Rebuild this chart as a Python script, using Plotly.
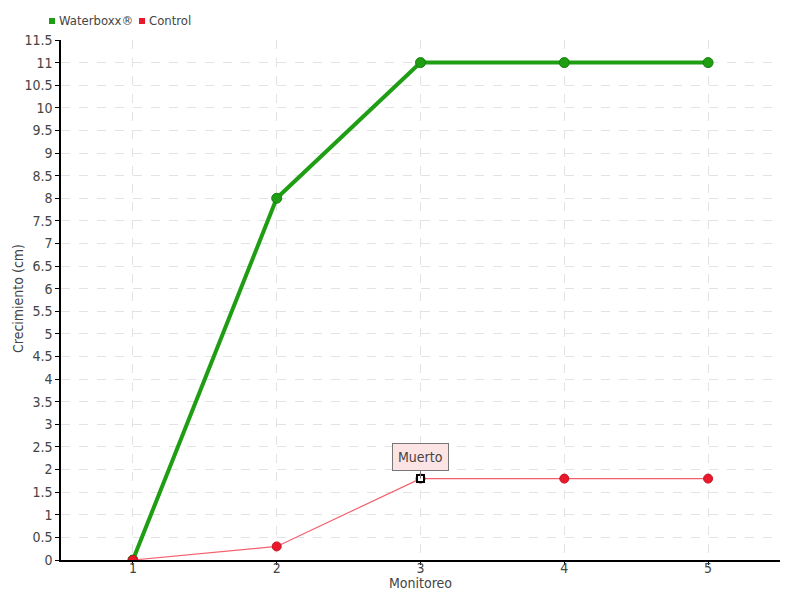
import plotly.graph_objects as go

monitoreo = [1, 2, 3, 4, 5]
waterboxx = [0, 8, 11, 11, 11]
control = [0, 0.3, 1.8, 1.8, 1.8]
y_ticks = [i * 0.5 for i in range(24)]
y_labels = [("%g" % v) for v in y_ticks]
series_names = ["Waterboxx®", "Control"]

FONT = "DejaVu Sans Condensed, Liberation Sans Narrow, sans-serif"
GREEN = "#1f9e14"
RED = "#e8192c"
TXT = "#444"

# page offset compensation (body margin of 8px)
L, R, T, B = 53, 28, 32, 48
W, H = 800, 600
PW, PH = W - L - R, H - T - B


def px(xp):
    return (xp - L) / PW


def py(yp):
    return (H - B - yp) / PH


fig = go.Figure()
fig.add_trace(go.Scatter(
    x=monitoreo, y=waterboxx, name=series_names[0], mode="lines+markers", showlegend=False,
    line=dict(color=GREEN, width=4),
    marker=dict(color=GREEN, size=10, line=dict(color="#178010", width=1)),
))
fig.add_trace(go.Scatter(
    x=monitoreo, y=control, name=series_names[1], mode="lines+markers", showlegend=False,
    line=dict(color="#f4606c", width=1.2),
    marker=dict(color=RED, size=9, line=dict(color="#c8101f", width=1)),
))
# highlighted point
fig.add_trace(go.Scatter(
    x=[monitoreo[2]], y=[control[2]], mode="markers", showlegend=False,
    marker=dict(symbol="square", color="white", size=7, line=dict(color="black", width=2)),
    hoverinfo="skip",
))

# legend drawn as squares + text
for name, col, xs in [(series_names[0], GREEN, 44), (series_names[1], RED, 134)]:
    fig.add_shape(type="rect", xref="paper", yref="paper",
                  x0=px(xs - 3), x1=px(xs + 3), y0=py(16), y1=py(10),
                  fillcolor=col, line=dict(width=0))
    fig.add_annotation(xref="paper", yref="paper", x=px(xs + 5), y=py(13),
                       text=name, showarrow=False, xanchor="left", yanchor="middle",
                       font=dict(family=FONT, size=13, color=TXT))

# y axis title
fig.add_annotation(xref="paper", yref="paper", x=px(10), y=py(291),
                   text="Crecimiento (cm)", showarrow=False, textangle=-90,
                   xanchor="center", yanchor="middle",
                   font=dict(family=FONT, size=14, color=TXT))
# x axis title
fig.add_annotation(xref="paper", yref="paper", x=px(412), y=py(575),
                   text="Monitoreo", showarrow=False,
                   xanchor="center", yanchor="middle",
                   font=dict(family=FONT, size=14, color=TXT))

fig.add_annotation(
    x=monitoreo[2], y=control[2], text="Muerto", showarrow=True,
    ax=0, ay=-8, arrowhead=0, arrowwidth=1, arrowcolor="#777",
    bgcolor="#fde4e4", bordercolor="#777", borderwidth=1, borderpad=5,
    font=dict(family=FONT, size=14, color=TXT), yanchor="bottom",
)

fig.update_layout(
    width=W, height=H,
    margin=dict(l=L, r=R, t=T, b=B, autoexpand=False),
    plot_bgcolor="white", paper_bgcolor="white",
    font=dict(family=FONT, size=14, color=TXT),
    showlegend=False,
)
fig.update_xaxes(
    range=[0.5, 5.5], tickvals=monitoreo, ticktext=[str(m) for m in monitoreo],
    showline=True, linecolor="black", linewidth=1.5,
    showgrid=True, gridcolor="#e3e3e3", griddash="dash", gridwidth=1,
    ticks="outside", ticklen=3, tickcolor="black", ticklabelstandoff=-9,
    zeroline=False, tickfont=dict(size=14, color=TXT), automargin=False,
)
fig.update_yaxes(
    range=[0, 11.5], tickvals=y_ticks, ticktext=y_labels,
    showline=True, linecolor="black", linewidth=1.5,
    showgrid=True, gridcolor="#e3e3e3", griddash="dash", gridwidth=1,
    ticks="outside", ticklen=4, tickcolor="black",
    zeroline=False, tickfont=dict(size=14, color=TXT), automargin=False,
)

fig.write_html("out.html")
